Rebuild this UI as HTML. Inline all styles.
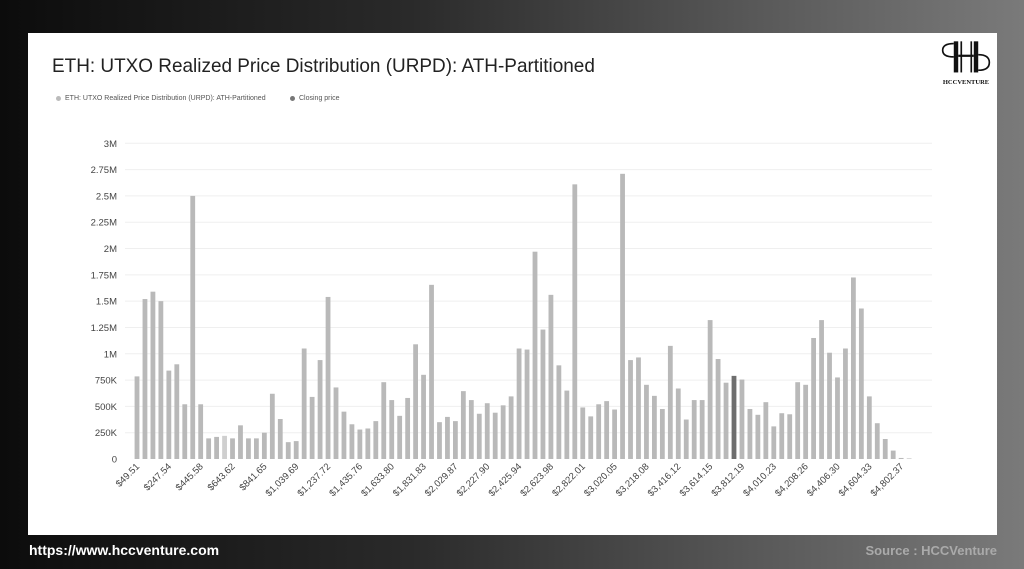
<!DOCTYPE html>
<html><head><meta charset="utf-8"><style>
html,body{margin:0;padding:0}
body{width:1024px;height:569px;overflow:hidden;position:relative;background:linear-gradient(90deg,#0c0c0c 0%,#2a2a2a 40%,#5a5a5a 75%,#7a7a7a 100%);font-family:"Liberation Sans",sans-serif}
#card{position:absolute;left:28px;top:33px;width:969px;height:502px;background:#fff}
#title{position:absolute;left:24px;top:22px;font-size:19.4px;color:#222;transform:scaleX(0.977);transform-origin:left top}
.leg{position:absolute;top:62px;font-size:7px;color:#555}
.dot{display:inline-block;width:5px;height:5px;border-radius:50%;margin-right:4px;vertical-align:middle}
#footl{position:absolute;left:29px;top:542px;color:#fff;font-weight:bold;font-size:14px}
#footr{position:absolute;right:27px;top:543px;color:#aaa;font-weight:bold;font-size:13px}
</style></head><body>
<div id="card">
<div id="title">ETH: UTXO Realized Price Distribution (URPD): ATH-Partitioned</div>
<div class="leg" style="left:28px"><span class="dot" style="background:#bbb"></span>ETH: UTXO Realized Price Distribution (URPD): ATH-Partitioned</div>
<div class="leg" style="left:262px"><span class="dot" style="background:#777"></span>Closing price</div>
<div style="position:absolute;left:908px;top:6px;width:60px;text-align:center">
<svg width="60" height="38" viewBox="0 0 54 34"><rect x="16" y="2" width="4" height="28" fill="#111"/><rect x="22" y="2" width="1.5" height="28" fill="#111"/><rect x="31" y="2" width="1.5" height="28" fill="#111"/><rect x="34" y="2" width="4" height="28" fill="#111"/><rect x="20" y="14" width="14" height="2" fill="#111"/><path d="M16 4 Q6 4 6 10 Q6 16 16 16" fill="none" stroke="#111" stroke-width="1.5"/><path d="M38 14 Q48 14 48 21 Q48 28 38 28" fill="none" stroke="#111" stroke-width="1.5"/></svg>
<div style="font-family:'Liberation Serif',serif;font-size:6.5px;font-weight:bold;color:#111;margin-top:-3px">HCCVENTURE</div></div>
</div>
<svg id="chart" width="1024" height="569" style="position:absolute;left:0;top:0"></svg>
<div id="footl">https://www.hccventure.com</div>
<div id="footr">Source : HCCVenture</div>
<script>
const values=[0.785,1.52,1.59,1.50,0.84,0.90,0.52,2.50,0.52,0.196,0.21,0.22,0.196,0.32,0.196,0.196,0.25,0.62,0.38,0.16,0.17,1.05,0.59,0.94,1.54,0.68,0.45,0.33,0.28,0.29,0.36,0.73,0.56,0.41,0.58,1.09,0.80,1.655,0.35,0.40,0.36,0.645,0.56,0.43,0.53,0.44,0.51,0.595,1.05,1.04,1.97,1.23,1.56,0.89,0.65,2.61,0.49,0.405,0.52,0.55,0.47,2.71,0.94,0.965,0.705,0.60,0.475,1.075,0.67,0.375,0.56,0.56,1.32,0.95,0.725,0.79,0.755,0.475,0.42,0.54,0.31,0.435,0.425,0.73,0.705,1.15,1.32,1.01,0.775,1.05,1.725,1.43,0.595,0.34,0.19,0.08,0.01,0.005];
const xTickLabels=["$49.51","$247.54","$445.58","$643.62","$841.65","$1,039.69","$1,237.72","$1,435.76","$1,633.80","$1,831.83","$2,029.87","$2,227.90","$2,425.94","$2,623.98","$2,822.01","$3,020.05","$3,218.08","$3,416.12","$3,614.15","$3,812.19","$4,010.23","$4,208.26","$4,406.30","$4,604.33","$4,802.37"];
const closingIndex=75;
const yTicks=[0,0.25,0.5,0.75,1,1.25,1.5,1.75,2,2.25,2.5,2.75,3];
const yTickLabels=["0","250K","500K","750K","1M","1.25M","1.5M","1.75M","2M","2.25M","2.5M","2.75M","3M"];
const NS="http://www.w3.org/2000/svg";
const svg=document.getElementById('chart');
const y0=459,y1=143.3,yMax=3;
const x0=137,step=7.96,bw=4.8;
function y(v){return y0-(v/yMax)*(y0-y1);}
function x(i){return x0+i*step;}
function mk(t,a){const e=document.createElementNS(NS,t);for(const k in a)e.setAttribute(k,a[k]);svg.appendChild(e);return e;}
yTicks.forEach((t,i)=>{
 if(t>0){const g=mk('line',{x1:125,x2:932,y1:y(t),y2:y(t),stroke:'#efefef','stroke-width':1});
 
 }
 const l=mk('text',{x:117,y:y(t)+3.5,'text-anchor':'end','font-size':9.5,fill:'#444','font-family':'Liberation Sans, sans-serif'});
 l.textContent=yTickLabels[i];
 
 
});
values.forEach((v,i)=>{
 const r=mk('rect',{x:x(i)-bw/2,y:y(v),width:bw,height:y0-y(v),fill:i===closingIndex?'#6e6e6e':(i===11?'#cfcfcf':'#b9b9b9')});
 
 
});
xTickLabels.forEach((lab,k)=>{
 const i=k*4;
 const tx=x(i)+3,ty=467;
 const t=mk('text',{x:tx,y:ty,'text-anchor':'end','font-size':9.5,fill:'#444','font-family':'Liberation Sans, sans-serif',transform:'rotate(-45 '+tx+' '+ty+')'});
 t.textContent=lab;
 
 
});
</script>
</body></html>
